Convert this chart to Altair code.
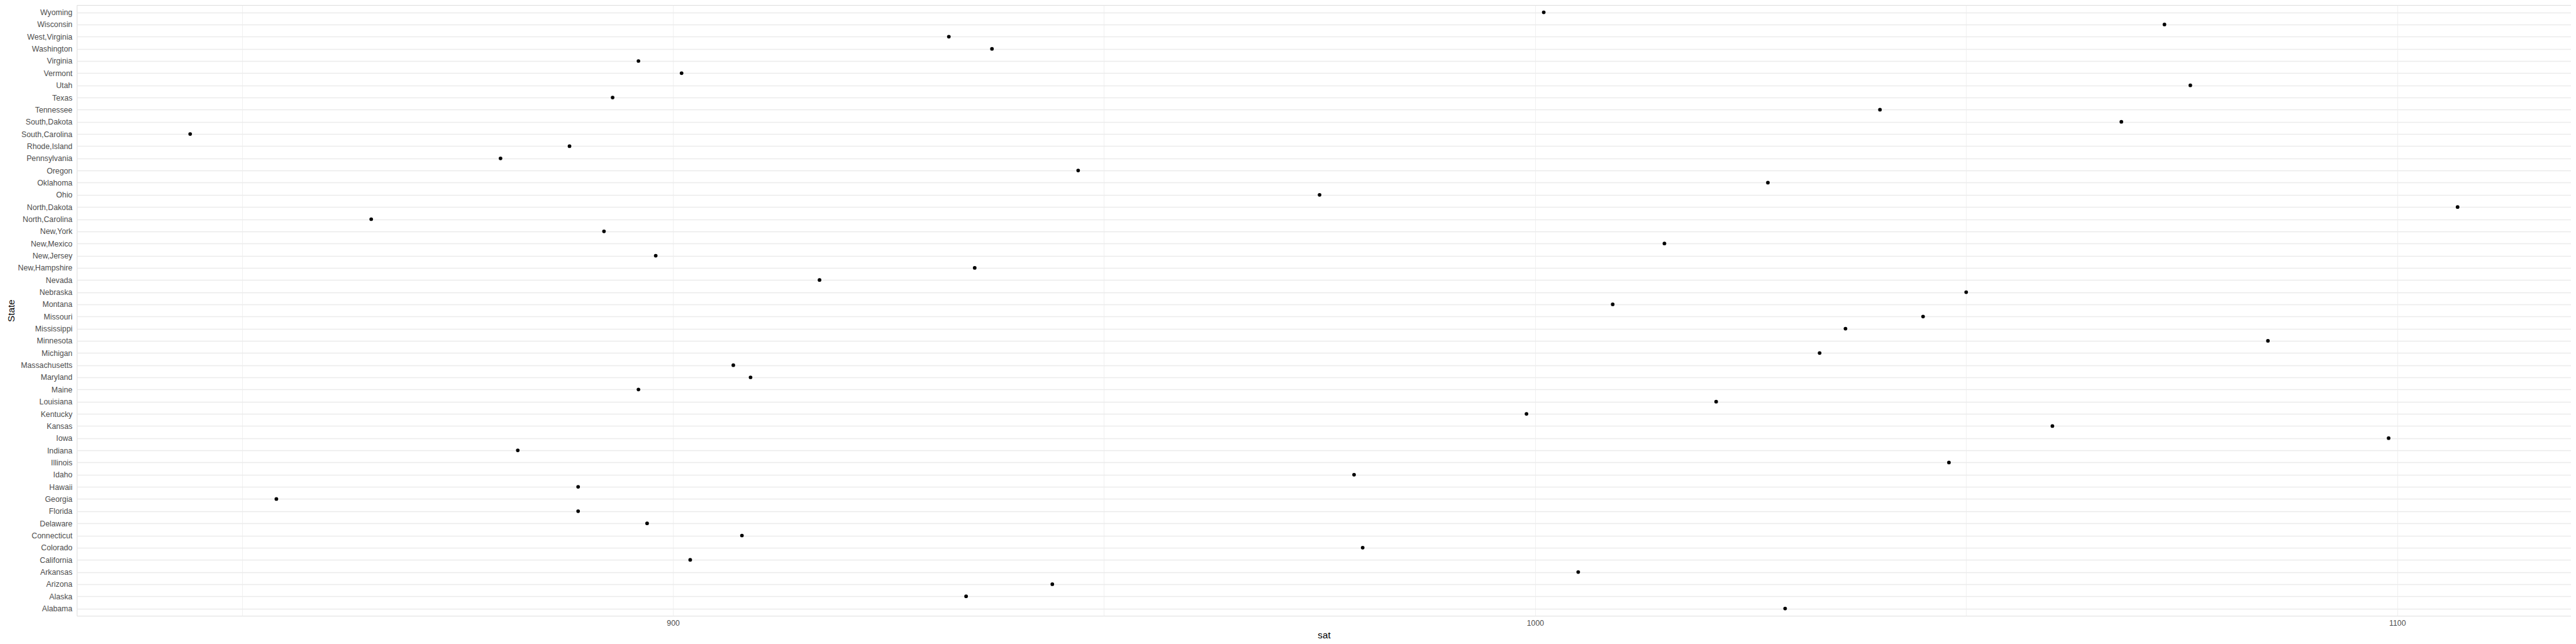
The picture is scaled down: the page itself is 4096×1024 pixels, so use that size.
import altair as alt
import pandas as pd

states = [
    "Alabama", "Alaska", "Arizona", "Arkansas", "California", "Colorado",
    "Connecticut", "Delaware", "Florida", "Georgia", "Hawaii", "Idaho",
    "Illinois", "Indiana", "Iowa", "Kansas", "Kentucky", "Louisiana", "Maine",
    "Maryland", "Massachusetts", "Michigan", "Minnesota", "Mississippi",
    "Missouri", "Montana", "Nebraska", "Nevada", "New,Hampshire", "New,Jersey",
    "New,Mexico", "New,York", "North,Carolina", "North,Dakota", "Ohio",
    "Oklahoma", "Oregon", "Pennsylvania", "Rhode,Island", "South,Carolina",
    "South,Dakota", "Tennessee", "Texas", "Utah", "Vermont", "Virginia",
    "Washington", "West,Virginia", "Wisconsin", "Wyoming",
]
sat = [
    1029, 934, 944, 1005, 902, 980, 908, 897, 889, 854, 889, 979, 1048, 882,
    1099, 1060, 999, 1021, 896, 909, 907, 1033, 1085, 1036, 1045, 1009, 1050,
    917, 935, 898, 1015, 892, 865, 1107, 975, 1027, 947, 880, 888, 844, 1068,
    1040, 893, 1076, 901, 896, 937, 932, 1073, 1001,
]
x_ticks = [850, 900, 950, 1000, 1050, 1100]
x_domain = [830.85, 1120.15]

df = pd.DataFrame({"State": states, "sat": sat})

W = 3966
H = 971.2
FONT = "Liberation Sans"

chart = (
    alt.Chart(df)
    .mark_circle(color="black", opacity=1, size=33)
    .encode(
        x=alt.X(
            "sat:Q",
            scale=alt.Scale(domain=x_domain, nice=False, zero=False),
            axis=alt.Axis(
                values=x_ticks,
                format="d",
                labelExpr="datum.value % 100 == 0 ? datum.label : ''",
                grid=True,
                gridColor="#EBEBEB",
                gridWidth=0.75,
                domain=False,
                ticks=False,
                tickSize=0,
                labelPadding=11.7,
                labelBaseline="middle",
                labelFont=FONT,
                labelFontSize=12.3,
                labelColor="#4D4D4D",
                title="sat",
                titleFont=FONT,
                titleFontSize=15.3,
                titleFontWeight="normal",
                titleColor="#000000",
                titleY=30,
                titleBaseline="middle",
            ),
        ),
        y=alt.Y(
            "State:N",
            sort=list(reversed(states)),
            scale=alt.Scale(type="point", padding=0.6),
            axis=alt.Axis(
                grid=True,
                gridColor="#EBEBEB",
                gridWidth=1.4,
                domain=False,
                ticks=False,
                tickSize=0,
                labelPadding=7.4,
                labelFont=FONT,
                labelFontSize=12.3,
                labelColor="#4D4D4D",
                title="State",
                titleFont=FONT,
                titleFontSize=15.3,
                titleFontWeight="normal",
                titleColor="#000000",
                titleAngle=270,
                titleX=-105.0,
                titleY=H / 2,
                titleAlign="center",
                titleBaseline="middle",
            ),
        ),
    )
    .properties(
        width=W,
        height=H,
        autosize=alt.AutoSizeParams(type="none"),
        padding={"left": 114.1, "top": 0, "right": 0, "bottom": 44},
    )
    .configure_view(stroke=None)
    .configure(background="white")
)

chart.save("out.html", embed_options={"renderer": "svg", "actions": False})
